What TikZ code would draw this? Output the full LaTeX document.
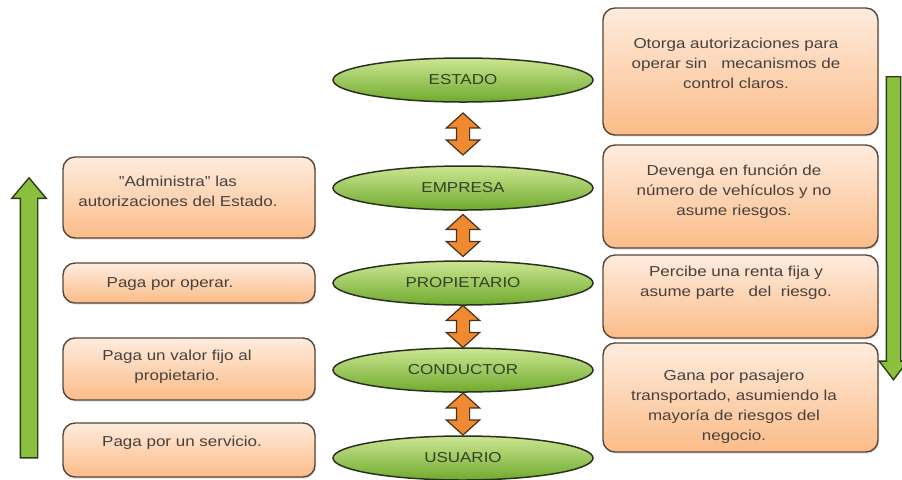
\documentclass[tikz,border=0pt]{standalone}
\usepackage{fontspec}
\setmainfont[FakeStretch=1.18]{Liberation Sans}
\usetikzlibrary{arrows.meta,positioning,calc,shapes.geometric,shapes.arrows,shadows}
\definecolor{actortop}{RGB}{204,230,146}
\definecolor{actorbot}{RGB}{112,170,46}
\definecolor{actorline}{RGB}{40,50,30}
\definecolor{actortext}{RGB}{50,64,38}
\definecolor{boxtop}{RGB}{254,236,222}
\definecolor{boxbot}{RGB}{251,188,136}
\definecolor{boxline}{RGB}{88,70,56}
\definecolor{notegray}{RGB}{72,64,60}
\definecolor{linkfill}{RGB}{240,138,48}
\definecolor{linkline}{RGB}{70,48,28}
\definecolor{flowfill}{RGB}{138,192,62}
\definecolor{flowline}{RGB}{45,60,25}

\begin{document}
\begin{tikzpicture}[x=0.5pt,y=-0.5pt,font=\fontsize{7.2}{10}\selectfont,
  actor/.style={ellipse, draw=actorline, line width=0.75pt, top color=actortop, bottom color=actorbot,
    minimum width=130pt, minimum height=22pt, inner sep=0pt, text=actortext},
  notebox/.style={draw=boxline, line width=0.7pt, rounded corners=6pt, top color=boxtop, bottom color=boxbot,
    drop shadow={opacity=0.25, shadow xshift=0.5pt, shadow yshift=-0.8pt}, minimum width=#1, inner sep=0pt},
  notetext/.style={align=center, text=notegray, inner sep=0pt},
  link/.style={double arrow, draw=linkline, line width=0.6pt, fill=linkfill, rotate=90, minimum width=0pt,
    minimum height=21pt, inner xsep=0pt, inner ysep=3pt, double arrow head extend=5pt, double arrow tip angle=96},
  flow/.style={single arrow, draw=flowline, line width=0.7pt, fill=flowfill, minimum width=0pt,
    inner xsep=0pt, single arrow head indent=0pt}]
  \useasboundingbox (0,0) rectangle (902,479);

  % actors, top to bottom
  \node[actor] (estado) at (463,80) {ESTADO};
  \node[actor] (empresa) at (463,188) {EMPRESA};
  \node[actor] (propietario) at (463,283) {PROPIETARIO};
  \node[actor] (conductor) at (463,370) {CONDUCTOR};
  \node[actor] (usuario) at (463,458) {USUARIO};
  \foreach \a/\b in {estado/empresa,empresa/propietario,propietario/conductor,conductor/usuario}
    \node[link] (\a-\b) at ($(\a)!0.5!(\b)$) {};

  % what each one does (right)
  \node[notebox=137.5pt, minimum height=63.5pt] (otorga) at (740.5,71.5) {};
  \node[notetext] (otorgatxt) at (736,63) {Otorga autorizaciones para\\ operar sin\ \ \ mecanismos de\\ control claros.};
  \node[notebox=137.5pt, minimum height=51.5pt] (devenga) at (740.5,196.5) {};
  \node[notetext] (devengatxt) at (734,192) {Devenga en función de\\ número de vehículos y no\\ asume riesgos.};
  \node[notebox=137.5pt, minimum height=41.5pt] (percibe) at (740.5,296.5) {};
  \node[notetext] (percibetxt) at (736,283) {Percibe una renta fija y\\ asume parte\ \ \ del\ \ riesgo.};
  \node[notebox=137.5pt, minimum height=54.5pt] (gana) at (740.5,397.5) {};
  \node[notetext] (ganatxt) at (734,407) {Gana por pasajero\\ transportado, asumiendo la\\ mayoría de riesgos del\\ negocio.};

  % what each one pays (left)
  \node[notebox=126pt, minimum height=40.5pt] (administra) at (189,197.5) {};
  \node[notetext] (administratxt) at (178,191) {"Administra" las\\ autorizaciones del Estado.};
  \node[notebox=126pt, minimum height=20pt] (operar) at (189,283) {};
  \node[notetext] (operartxt) at (170,284) {Paga por operar.};
  \node[notebox=126pt, minimum height=31pt] (valor) at (189,369) {};
  \node[notetext] (valortxt) at (177,367) {Paga un valor fijo al\\ propietario.};
  \node[notebox=126pt, minimum height=27pt] (servicio) at (189,450) {};
  \node[notetext] (serviciotxt) at (182,443) {Paga por un servicio.};

  % direction of money and of authority
  \node[flow, rotate=90, minimum height=140pt, inner ysep=4pt, single arrow head extend=4.25pt,
    single arrow tip angle=80] (pagos) at (29,323) {};
  \node[flow, rotate=-90, minimum height=151.5pt, inner ysep=3.25pt, single arrow head extend=3.5pt,
    single arrow tip angle=75] (poder) at (893.5,223.5) {};
\end{tikzpicture}
\end{document}
